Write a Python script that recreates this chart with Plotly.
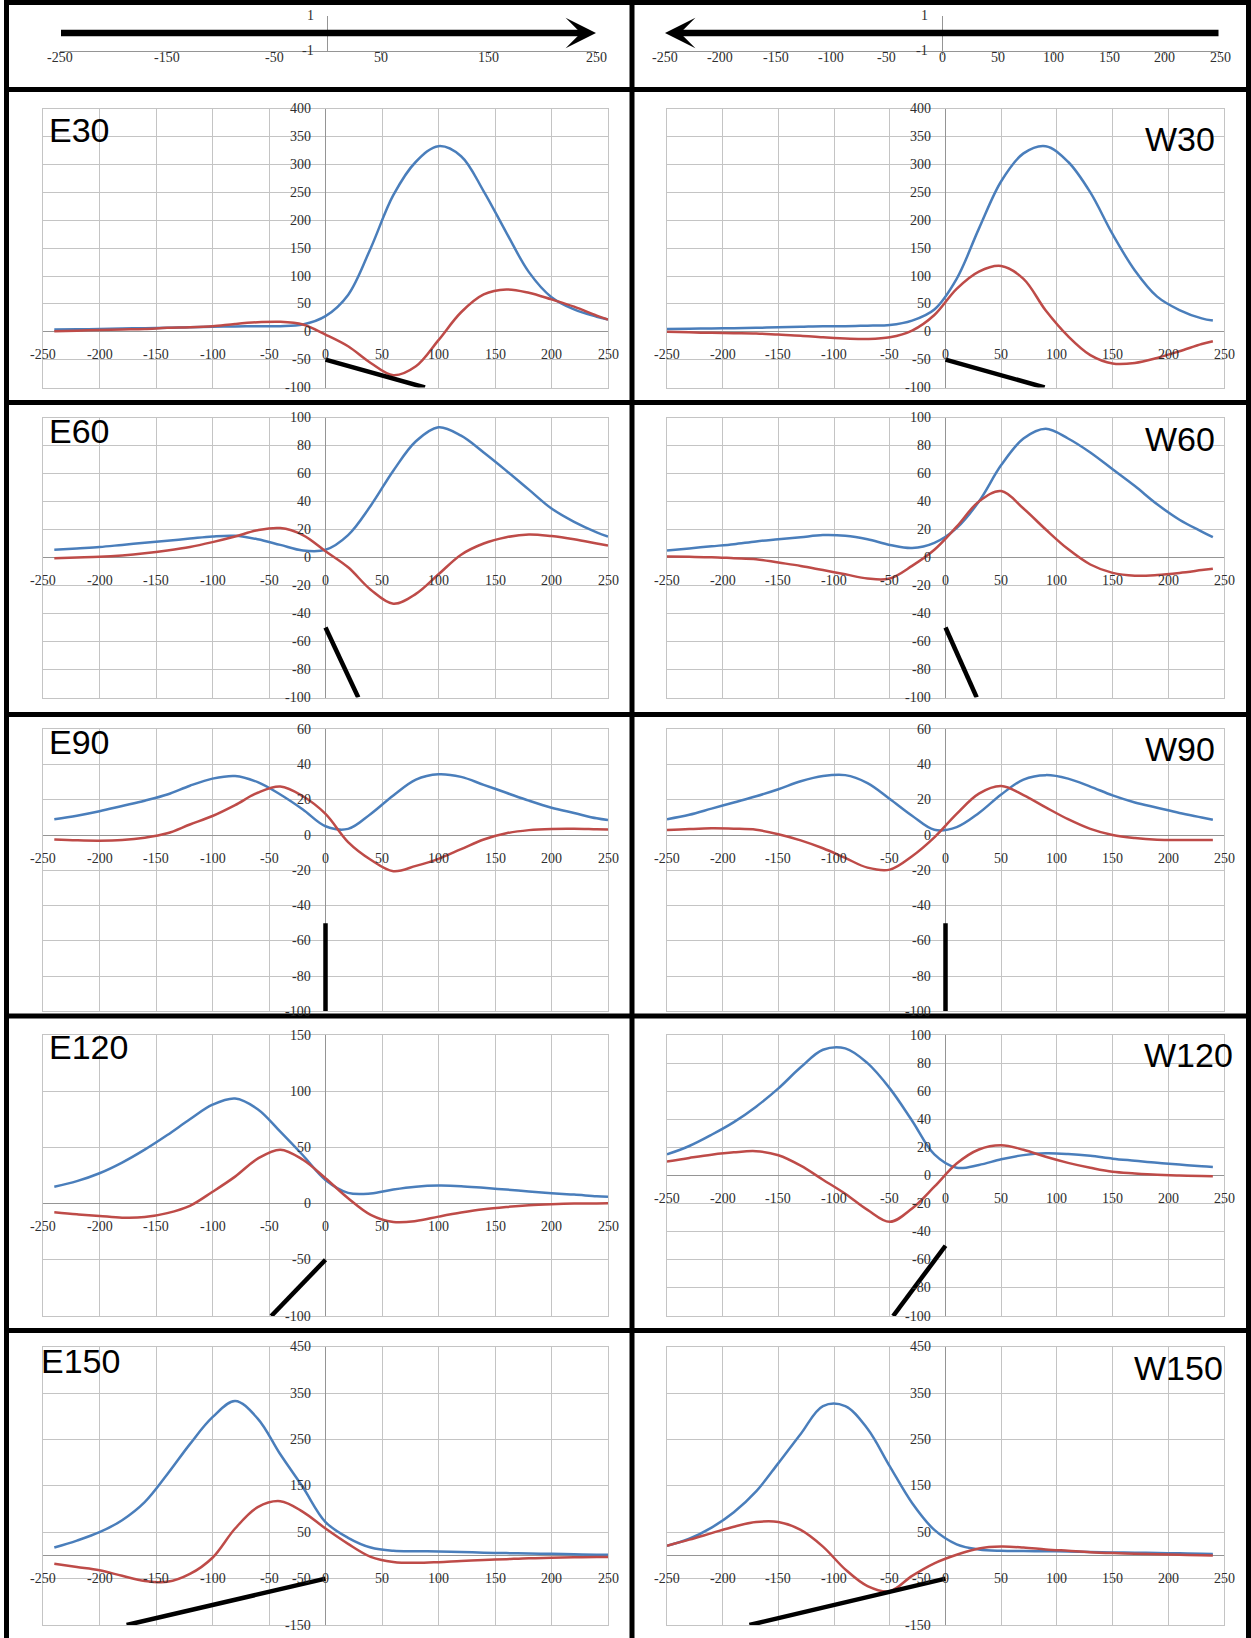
import plotly.graph_objects as go

W, H = 1251, 1638

# ---------------- data ----------------
x_E = [-240, -220, -200, -180, -160, -140, -120, -100, -80, -60, -40, -20, 0,
       20, 40, 60, 80, 100, 120, 140, 160, 180, 200, 220, 240, 250]
x_W = [-250, -230, -210, -190, -170, -150, -130, -110, -90, -70, -50, -30, -10,
       10, 30, 50, 70, 90, 110, 130, 150, 170, 190, 210, 230, 240]

e30_blue = [4, 4.5, 5, 6, 6.5, 7, 8, 9, 9.5, 10, 10, 13, 28, 66, 150, 245, 305, 333, 315, 252, 178, 107, 62, 40, 27, 22]
e30_red = [1, 2, 3, 4, 5, 7, 8, 10, 14, 17, 18, 13, -5, -26, -56, -78, -62, -15, 35, 67, 76, 70, 58, 45, 29, 22]
w30_blue = [5, 5.5, 6, 6.5, 7, 8, 9, 10, 10, 11, 12, 20, 40, 95, 185, 270, 320, 333, 305, 250, 175, 110, 63, 39, 24, 20]
w30_red = [0, -1, -2, -2.5, -3, -5, -7, -10, -12, -13, -10, 2, 30, 77, 108, 118, 95, 38, -8, -42, -57, -56, -47, -35, -22, -17]

e60_blue = [5.5, 6.5, 7.5, 9, 10.5, 12, 13.5, 15, 15.5, 13, 9, 5, 5.5, 16, 37, 62, 83, 93, 87, 75, 62, 48.5, 35, 25.5, 18, 15]
e60_red = [-0.5, 0, 0.5, 1.5, 3, 5, 7.5, 11, 15, 19.5, 21, 16, 4.5, -7, -23, -33, -26, -12, 2, 10, 14.5, 16.5, 15.3, 13, 10, 8.5]
w60_blue = [5, 6.5, 8, 9.5, 11.5, 13, 14.5, 16, 15.5, 13, 9, 6.8, 10.5, 21, 40, 66, 85, 92, 85, 75, 63, 51, 38, 27, 18.5, 14.5]
w60_red = [0.7, 0.5, 0.2, -0.5, -1.2, -3.6, -6, -9, -12, -15, -15, -6, 5.5, 22, 40, 47.5, 35, 20, 6, -5, -11, -13, -12.5, -11, -9, -8]

e90_blue = [9, 11, 13.5, 16.5, 19.5, 23, 28, 32, 33.5, 30, 23, 14.5, 5, 3.5, 12, 22.5, 31.5, 34.5, 33, 28.5, 24, 19.5, 15.5, 12.5, 9.5, 8.5]
e90_red = [-2.5, -3, -3.2, -2.8, -1.5, 1, 6, 10.8, 17, 24, 27.5, 22, 12, -4, -14, -20.5, -17.5, -13.5, -8, -2.5, 1, 2.8, 3.5, 3.6, 3.3, 3.2]
w90_blue = [9, 11.5, 15, 18.5, 22, 26, 30.5, 33.5, 34, 29.5, 20.5, 11, 3, 4.5, 12.5, 23, 31.5, 34, 32, 27.5, 22.5, 18.5, 15.5, 12.5, 10, 8.7]
w90_red = [2.8, 3.4, 3.8, 3.6, 3, 0.5, -3, -7.5, -13, -18.5, -19.6, -12, -1.3, 12, 23.5, 27.8, 22.7, 15.7, 9, 3.5, 0, -1.7, -2.6, -2.8, -2.8, -2.8]

e120_blue = [15, 20, 27, 36.5, 48, 61, 75, 88, 93.5, 84, 64, 43, 21, 9.5, 9, 12.5, 15, 16, 15.5, 14, 12.5, 10.8, 9.2, 8, 6.5, 6]
e120_red = [-7.7, -9.5, -11, -12.5, -12, -8.5, -2, 10.5, 24, 40, 48, 39, 22.6, 4.8, -10, -16.3, -15.5, -11.6, -8, -5, -3, -1.5, -0.6, 0, 0.2, 0.3]
w120_blue = [15, 21, 29, 38, 49, 62, 77, 89.5, 90.5, 80, 62, 39, 15, 5.5, 7.5, 11.5, 14.5, 15.8, 15.3, 14, 12, 10.5, 9, 7.8, 6.5, 6]
w120_red = [10, 12.5, 14.8, 16.5, 17.3, 14.4, 7, -3, -13, -24.5, -33, -23.5, -8, 8.5, 18.5, 21.5, 18.3, 13.3, 9, 5.5, 2.6, 1.5, 0.6, 0, -0.4, -0.5]

e150_blue = [17, 32, 50, 76, 115, 175, 240, 298, 333, 295, 218, 147, 72, 38, 17, 10, 9, 8.5, 7.5, 6, 5, 4, 3.5, 2.5, 1.5, 1.2]
e150_red = [-18, -25, -32, -44, -55, -57, -40, -5, 58, 104, 117, 94, 58, 25, -3, -14, -16, -14.5, -12, -10, -8, -6, -5, -4, -3.5, -3.5]
w150_blue = [21, 36, 60, 93, 138, 199, 262, 322, 322, 273, 192, 113, 55, 24, 13, 10, 9.5, 9, 8.5, 7.5, 6.5, 6, 5.3, 4.5, 3.5, 3]
w150_red = [21, 34, 48, 62, 72, 72, 55, 19, -30, -66, -77, -44, -17, 1.5, 15, 19, 17, 13, 10, 7, 5, 3.5, 2.5, 1.5, 0.5, 0]

# direction segments: start point and end point (data units)
seg_start_x = 0
seg_start_y = -50
e_seg_end_x = [88, 29, 0, -48, -176]
w_seg_end_x = [89, 28, 0, -47, -176]
seg_end_y = [-100, -100, -100, -100, -150]

panel_labels_E = ["E30", "E60", "E90", "E120", "E150"]
panel_labels_W = ["W30", "W60", "W90", "W120", "W150"]

y_ranges_E = [(-100, 400), (-100, 100), (-100, 60), (-100, 150), (-150, 450)]
y_ranges_W = [(-100, 400), (-100, 100), (-100, 60), (-100, 100), (-150, 450)]
y_dticks_E = [50, 20, 20, 50, 100]
y_dticks_W = [50, 20, 20, 20, 100]

x_tick_vals = list(range(-250, 251, 50))
header_left_ticks = [-250, -150, -50, 50, 150, 250]
header_right_ticks = list(range(-250, 251, 50))
header_y_ticks = [1, -1]

E_series = [(e30_blue, e30_red), (e60_blue, e60_red), (e90_blue, e90_red),
            (e120_blue, e120_red), (e150_blue, e150_red)]
W_series = [(w30_blue, w30_red), (w60_blue, w60_red), (w90_blue, w90_red),
            (w120_blue, w120_red), (w150_blue, w150_red)]

# ---------------- layout geometry (pixels) ----------------
def fx(px):
    return px / W

def fy(py):
    return 1 - py / H

E_COL = (43, 608)
W_COL = (667, 1224)
ROWS = [(108.8, 387.5), (417.5, 697.5), (729.3, 1011.3), (1035, 1316), (1346.7, 1625)]
HEADER_Y = (15.5, 50.5)
HEADER_L = (59.5, 596)
HEADER_R = (665, 1220)

BLUE = "#4a7ebb"
RED = "#be4b48"
GRID = "#c4c4c4"
AXIS = "#959595"
TICKFONT = dict(family="Liberation Serif", size=14, color="#2e2e2e")
LABELFONT = dict(family="Liberation Sans", size=34, color="black")

fig = go.Figure()
layout = dict(width=W, height=H, margin=dict(l=0, r=0, t=0, b=0),
              paper_bgcolor="white", plot_bgcolor="white", showlegend=False)
annotations = []
shapes = []

# ---------------- header ----------------
for i, (xd, ticks, direction) in enumerate([(HEADER_L, header_left_ticks, 1),
                                             (HEADER_R, header_right_ticks, -1)]):
    n = i + 1
    xa = "xaxis" if n == 1 else f"xaxis{n}"
    ya = "yaxis" if n == 1 else f"yaxis{n}"
    xr = "x" if n == 1 else f"x{n}"
    yr = "y" if n == 1 else f"y{n}"
    layout[xa] = dict(domain=[fx(xd[0]), fx(xd[1])], anchor=yr, range=[-250, 250],
                      showgrid=False, zeroline=True, zerolinecolor=AXIS, zerolinewidth=1,
                      showline=True, linecolor=AXIS, linewidth=1, mirror=False,
                      showticklabels=False, ticks="outside", ticklen=3, tickcolor=AXIS,
                      tickvals=ticks, fixedrange=True)
    layout[ya] = dict(domain=[fy(HEADER_Y[1]), fy(HEADER_Y[0])], anchor=xr, range=[-1, 1],
                      tickvals=header_y_ticks, showgrid=True, gridcolor="#d4d4d4",
                      zeroline=False, showline=False, showticklabels=False, fixedrange=True)
    # the direction arrow
    x_from, x_to = (-250, 250) if direction == 1 else (250, -250)
    annotations.append(dict(x=x_to, y=0, ax=x_from, ay=0, xref=xr, yref=yr,
                            axref=xr, ayref=yr, text="", showarrow=True,
                            arrowhead=3, arrowsize=0.78, arrowwidth=6.5, arrowcolor="black"))
    for v in ticks:
        annotations.append(dict(x=v, y=-1, xref=xr, yref=yr, text=str(v), showarrow=False,
                                font=TICKFONT, xanchor="center", yanchor="middle", yshift=-7))
    for v in header_y_ticks:
        annotations.append(dict(x=0, y=v, xref=xr, yref=yr, text=str(v), showarrow=False,
                                font=TICKFONT, xanchor="right", yanchor="middle", xshift=-12))

# ---------------- panels ----------------
label_pos_E = [(47, 130.5), (47, 431), (47, 742), (47, 1047), (38.6, 1361)]
label_pos_W = [(1217, 139), (1217, 439), (1217, 749), (1235, 1055), (1225, 1368)]

n = 2
for r in range(5):
    for side in ("E", "W"):
        n += 1
        xa, ya, xr, yr = f"xaxis{n}", f"yaxis{n}", f"x{n}", f"y{n}"
        col = E_COL if side == "E" else W_COL
        yrange = y_ranges_E[r] if side == "E" else y_ranges_W[r]
        dt = y_dticks_E[r] if side == "E" else y_dticks_W[r]
        xs = x_E if side == "E" else x_W
        blue, red = E_series[r] if side == "E" else W_series[r]
        seg_x = e_seg_end_x[r] if side == "E" else w_seg_end_x[r]
        top, bot = ROWS[r]
        layout[xa] = dict(domain=[fx(col[0]), fx(col[1])], anchor=yr, range=[-250, 250],
                          tick0=0, dtick=50, showgrid=True, gridcolor=GRID, gridwidth=1,
                          zeroline=True, zerolinecolor=AXIS, zerolinewidth=1,
                          showline=True, mirror=True, linecolor=GRID, linewidth=1,
                          showticklabels=False, fixedrange=True)
        layout[ya] = dict(domain=[fy(bot), fy(top)], anchor=xr, range=list(yrange),
                          tick0=yrange[0], dtick=dt, showgrid=True, gridcolor=GRID, gridwidth=1,
                          zeroline=True, zerolinecolor=AXIS, zerolinewidth=1,
                          showline=True, mirror=True, linecolor=GRID, linewidth=1,
                          showticklabels=False, fixedrange=True)
        fig.add_trace(go.Scatter(x=xs, y=blue, mode="lines", xaxis=xr, yaxis=yr,
                                 line=dict(color=BLUE, width=2.5, shape="spline", smoothing=1.0),
                                 hoverinfo="skip"))
        fig.add_trace(go.Scatter(x=xs, y=red, mode="lines", xaxis=xr, yaxis=yr,
                                 line=dict(color=RED, width=2.5, shape="spline", smoothing=1.0),
                                 hoverinfo="skip"))
        fig.add_trace(go.Scatter(x=[seg_start_x, seg_x], y=[seg_start_y, seg_end_y[r]],
                                 mode="lines", xaxis=xr, yaxis=yr,
                                 line=dict(color="black", width=4.5), hoverinfo="skip"))
        # tick labels (axes cross at zero, Excel style)
        for v in x_tick_vals:
            annotations.append(dict(x=v, y=0, xref=xr, yref=yr, text=str(v), showarrow=False,
                                    font=TICKFONT, xanchor="center", yanchor="middle", yshift=-23))
        yv = yrange[0]
        while yv <= yrange[1] + 1e-9:
            if not (yv == 0 and yrange[0] == -150):
                annotations.append(dict(x=0, y=yv, xref=xr, yref=yr, text=str(int(yv)),
                                        showarrow=False, font=TICKFONT, xanchor="right",
                                        yanchor="middle", xshift=-13))
            yv += dt
        # panel label
        if side == "E":
            lx, ly = label_pos_E[r]
            annotations.append(dict(x=fx(lx), y=fy(ly), xref="paper", yref="paper",
                                    text=panel_labels_E[r], showarrow=False, font=LABELFONT,
                                    xanchor="left", yanchor="middle"))
        else:
            lx, ly = label_pos_W[r]
            annotations.append(dict(x=fx(lx), y=fy(ly), xref="paper", yref="paper",
                                    text=panel_labels_W[r], showarrow=False, font=LABELFONT,
                                    xanchor="right", yanchor="middle"))

# ---------------- thick panel borders ----------------
BW = 5
def hline(py, x0=0, x1=W):
    shapes.append(dict(type="line", xref="paper", yref="paper", x0=fx(x0), x1=fx(x1),
                       y0=fy(py), y1=fy(py), line=dict(color="black", width=BW)))

def vline(px, y0=0, y1=H):
    shapes.append(dict(type="line", xref="paper", yref="paper", x0=fx(px), x1=fx(px),
                       y0=fy(y0), y1=fy(y1), line=dict(color="black", width=BW)))

for py in [2.5, 89.5, 402.5, 714.5, 1016, 1330.5]:
    hline(py, 4, W)
vline(6.5)
vline(632)
vline(1248.5)

layout["annotations"] = annotations
layout["shapes"] = shapes
fig.update_layout(**layout)
fig.write_html("out.html", config={"displayModeBar": False},
               post_script="document.body.style.margin='0';document.body.style.overflow='hidden';")
